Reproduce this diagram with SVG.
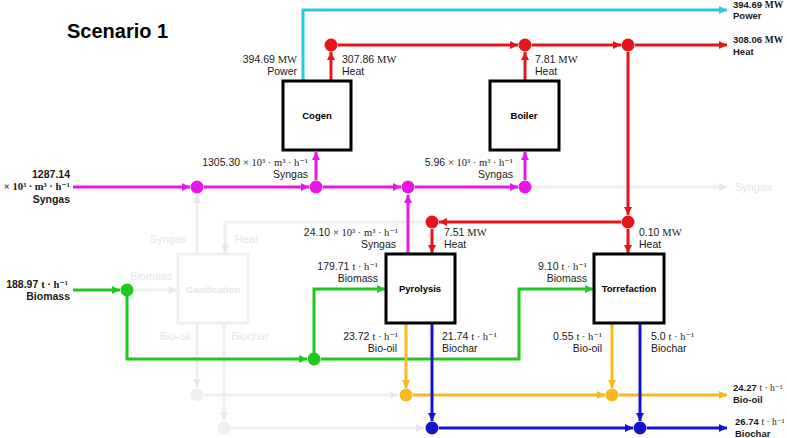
<svg xmlns="http://www.w3.org/2000/svg" width="787" height="438" viewBox="0 0 787 438">
<defs>
<style>
.t{font-family:"Liberation Sans",Arial,sans-serif;font-size:10.5px;fill:#1a1a1a}
.r{font-size:9.5px}
.u{font-family:"Liberation Serif","DejaVu Serif",serif}
.b{font-weight:bold}
.e{text-anchor:end}
.box{fill:#fff;stroke:#000;stroke-width:3}
.bl{font-family:"Liberation Sans",Arial,sans-serif;font-size:9.5px;font-weight:bold;text-anchor:middle;fill:#000}
.c{fill:none;stroke-width:3}
.cy{stroke:#2ec8dc}.rd{stroke:#e8141a}.mg{stroke:#e817e8}.gr{stroke:#1dc91d}.or{stroke:#f6b91e}.bu{stroke:#1414cc}.fa{stroke:#efefef}
.ft{font-family:"Liberation Sans",Arial,sans-serif;font-size:11px;fill:#e6e6e6}
</style>
<marker id="aCy" viewBox="0 0 10 10" refX="10" refY="5" markerWidth="10" markerHeight="8" markerUnits="userSpaceOnUse" orient="auto"><path d="M0,0L10,5L0,10z" fill="#2ec8dc"/></marker>
<marker id="aRd" viewBox="0 0 10 10" refX="10" refY="5" markerWidth="10" markerHeight="8" markerUnits="userSpaceOnUse" orient="auto"><path d="M0,0L10,5L0,10z" fill="#e8141a"/></marker>
<marker id="aMg" viewBox="0 0 10 10" refX="10" refY="5" markerWidth="10" markerHeight="8" markerUnits="userSpaceOnUse" orient="auto"><path d="M0,0L10,5L0,10z" fill="#e817e8"/></marker>
<marker id="aGr" viewBox="0 0 10 10" refX="10" refY="5" markerWidth="10" markerHeight="8" markerUnits="userSpaceOnUse" orient="auto"><path d="M0,0L10,5L0,10z" fill="#1dc91d"/></marker>
<marker id="aOr" viewBox="0 0 10 10" refX="10" refY="5" markerWidth="10" markerHeight="8" markerUnits="userSpaceOnUse" orient="auto"><path d="M0,0L10,5L0,10z" fill="#f6b91e"/></marker>
<marker id="aBu" viewBox="0 0 10 10" refX="10" refY="5" markerWidth="10" markerHeight="8" markerUnits="userSpaceOnUse" orient="auto"><path d="M0,0L10,5L0,10z" fill="#1414cc"/></marker>
<marker id="aFa" viewBox="0 0 10 10" refX="10" refY="5" markerWidth="10" markerHeight="8" markerUnits="userSpaceOnUse" orient="auto"><path d="M0,0L10,5L0,10z" fill="#e8e8e8"/></marker>
</defs>
<rect width="787" height="438" fill="#fff"/>
<text x="67" y="38" style="font-family:'Liberation Sans',Arial,sans-serif;font-size:20px;font-weight:bold;fill:#000">Scenario 1</text>

<g id="gasification">
<rect x="178" y="254" width="70" height="69" fill="#fff" stroke="#efefef" stroke-width="3"/>
<text x="213" y="293" class="bl" style="fill:#e6e6e6">Gasification</text>
</g>

<g id="connectors">
<path class="c fa" d="M532,187H727" marker-end="url(#aFa)"/>
<path class="c fa" d="M197,253V195" marker-end="url(#aFa)"/>
<path class="c fa" d="M425,222H225V253" marker-end="url(#aFa)"/>
<path class="c fa" d="M134,290H177" marker-end="url(#aFa)"/>
<path class="c fa" d="M197,324V387" marker-end="url(#aFa)"/>
<path class="c fa" d="M204,395H398" marker-end="url(#aFa)"/>
<path class="c fa" d="M224,324V420" marker-end="url(#aFa)"/>
<path class="c fa" d="M231,428H424" marker-end="url(#aFa)"/>
<circle cx="197" cy="395" r="6.5" fill="#efefef"/>
<circle cx="224" cy="428" r="6.5" fill="#efefef"/>
<path class="c cy" d="M303,80V10H727" marker-end="url(#aCy)"/>
<path class="c rd" d="M331,80V52" marker-end="url(#aRd)"/>
<path class="c rd" d="M338,45H518" marker-end="url(#aRd)"/>
<path class="c rd" d="M525,80V52" marker-end="url(#aRd)"/>
<path class="c rd" d="M532,45H621" marker-end="url(#aRd)"/>
<path class="c rd" d="M635,45H727" marker-end="url(#aRd)"/>
<path class="c rd" d="M628,52V215" marker-end="url(#aRd)"/>
<path class="c rd" d="M621,222H439" marker-end="url(#aRd)"/>
<path class="c rd" d="M432,229V253" marker-end="url(#aRd)"/>
<path class="c rd" d="M628,229V253" marker-end="url(#aRd)"/>
<path class="c mg" d="M73,187H190" marker-end="url(#aMg)"/>
<path class="c mg" d="M204,187H309" marker-end="url(#aMg)"/>
<path class="c mg" d="M316,180V152" marker-end="url(#aMg)"/>
<path class="c mg" d="M323,187H401" marker-end="url(#aMg)"/>
<path class="c mg" d="M415,187H518" marker-end="url(#aMg)"/>
<path class="c mg" d="M525,180V152" marker-end="url(#aMg)"/>
<path class="c mg" d="M408,253V195" marker-end="url(#aMg)"/>
<path class="c gr" d="M73,290H120" marker-end="url(#aGr)"/>
<path class="c gr" d="M127,290V359H307" marker-end="url(#aGr)"/>
<path class="c gr" d="M314,359V289H385" marker-end="url(#aGr)"/>
<path class="c gr" d="M321,359H519V289H593" marker-end="url(#aGr)"/>
<path class="c or" d="M406,324V388" marker-end="url(#aOr)"/>
<path class="c or" d="M413,395H605" marker-end="url(#aOr)"/>
<path class="c or" d="M612,324V388" marker-end="url(#aOr)"/>
<path class="c or" d="M619,395H727" marker-end="url(#aOr)"/>
<path class="c bu" d="M432,324V421" marker-end="url(#aBu)"/>
<path class="c bu" d="M439,428H633" marker-end="url(#aBu)"/>
<path class="c bu" d="M640,324V421" marker-end="url(#aBu)"/>
<path class="c bu" d="M647,428H727" marker-end="url(#aBu)"/>
</g>

<g id="junctions">
<circle cx="331" cy="45" r="6.5" fill="#e8141a"/>
<circle cx="525" cy="45" r="6.5" fill="#e8141a"/>
<circle cx="628" cy="45" r="6.5" fill="#e8141a"/>
<circle cx="628" cy="222" r="6.5" fill="#e8141a"/>
<circle cx="432" cy="222" r="6.5" fill="#e8141a"/>
<circle cx="197" cy="187" r="6.5" fill="#e817e8"/>
<circle cx="316" cy="187" r="6.5" fill="#e817e8"/>
<circle cx="408" cy="187" r="6.5" fill="#e817e8"/>
<circle cx="525" cy="187" r="6.5" fill="#e817e8"/>
<circle cx="127" cy="290" r="6.5" fill="#1dc91d"/>
<circle cx="314" cy="359" r="6.5" fill="#1dc91d"/>
<circle cx="406" cy="395" r="6.5" fill="#f6b91e"/>
<circle cx="612" cy="395" r="6.5" fill="#f6b91e"/>
<circle cx="432" cy="428" r="6.5" fill="#1414cc"/>
<circle cx="640" cy="428" r="6.5" fill="#1414cc"/>
</g>

<g id="cogen"><rect class="box" x="283" y="81" width="68" height="69"/><text class="bl" x="317" y="119">Cogen</text></g>
<g id="boiler"><rect class="box" x="490" y="81" width="69" height="69"/><text class="bl" x="524" y="119">Boiler</text></g>
<g id="pyrolysis"><rect class="box" x="386" y="254" width="69" height="69"/><text class="bl" x="420" y="292">Pyrolysis</text></g>
<g id="torrefaction"><rect class="box" x="594" y="254" width="70" height="69"/><text class="bl" x="629" y="292">Torrefaction</text></g>

<g id="labels">
<text class="ft" x="168" y="243" text-anchor="middle">Syngas</text>
<text class="ft" x="235" y="243">Heat</text>
<text class="ft" x="151" y="280" text-anchor="middle">Biomass</text>
<text class="ft" x="175" y="340" text-anchor="middle">Bio-oil</text>
<text class="ft" x="250" y="340" text-anchor="middle">Biochar</text>
<text class="ft" x="735" y="191">Syngas</text>

<text class="t e" x="297" y="63">394.69 <tspan class="u">MW</tspan></text>
<text class="t e" x="297" y="75">Power</text>
<text class="t" x="342" y="63">307.86 <tspan class="u">MW</tspan></text>
<text class="t" x="342" y="75">Heat</text>
<text class="t" x="535" y="63">7.81 <tspan class="u">MW</tspan></text>
<text class="t" x="535" y="75">Heat</text>

<text class="t r b" x="733" y="8">394.69 <tspan class="u">MW</tspan></text>
<text class="t r b" x="733" y="19">Power</text>
<text class="t r b" x="733" y="43">308.06 <tspan class="u">MW</tspan></text>
<text class="t r b" x="733" y="55">Heat</text>

<text class="t b e" x="70" y="178">1287.14</text>
<text class="t b e" x="70" y="190"><tspan class="u">× 10³ · m³ · h⁻¹</tspan></text>
<text class="t b e" x="70" y="203">Syngas</text>

<text class="t e" x="308" y="166">1305.30 <tspan class="u">× 10³ · m³ · h⁻¹</tspan></text>
<text class="t e" x="308" y="178">Syngas</text>
<text class="t e" x="513" y="166">5.96 <tspan class="u">× 10³ · m³ · h⁻¹</tspan></text>
<text class="t e" x="513" y="178">Syngas</text>
<text class="t e" x="398" y="236">24.10 <tspan class="u">× 10³ · m³ · h⁻¹</tspan></text>
<text class="t e" x="396" y="248">Syngas</text>

<text class="t" x="444" y="236">7.51 <tspan class="u">MW</tspan></text>
<text class="t" x="444" y="248">Heat</text>
<text class="t" x="639" y="236">0.10 <tspan class="u">MW</tspan></text>
<text class="t" x="639" y="248">Heat</text>

<text class="t b e" x="68" y="288">188.97 <tspan class="u">t · h⁻¹</tspan></text>
<text class="t b e" x="70" y="300">Biomass</text>
<text class="t e" x="378" y="270">179.71 <tspan class="u">t · h⁻¹</tspan></text>
<text class="t e" x="378" y="282">Biomass</text>
<text class="t e" x="587" y="270">9.10 <tspan class="u">t · h⁻¹</tspan></text>
<text class="t e" x="587" y="282">Biomass</text>

<text class="t e" x="398" y="340">23.72 <tspan class="u">t · h⁻¹</tspan></text>
<text class="t e" x="397" y="352">Bio-oil</text>
<text class="t" x="442" y="340">21.74 <tspan class="u">t · h⁻¹</tspan></text>
<text class="t" x="442" y="352">Biochar</text>
<text class="t e" x="602" y="340">0.55 <tspan class="u">t · h⁻¹</tspan></text>
<text class="t e" x="602" y="352">Bio-oil</text>
<text class="t" x="651" y="340">5.0 <tspan class="u">t · h⁻¹</tspan></text>
<text class="t" x="651" y="352">Biochar</text>

<text class="t r" x="733" y="391"><tspan class="b">24.27</tspan> <tspan class="u">t · h⁻¹</tspan></text>
<text class="t r b" x="733" y="403">Bio-oil</text>
<text class="t r" x="735" y="425"><tspan class="b">26.74</tspan> <tspan class="u">t · h⁻¹</tspan></text>
<text class="t r b" x="735" y="437">Biochar</text>
</g>
</svg>
